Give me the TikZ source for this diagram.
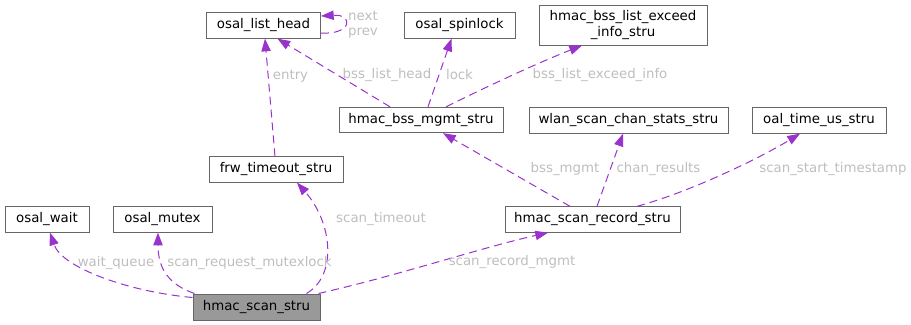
\documentclass[tikz,border=0pt]{standalone}
\usepackage{fontspec}
\setmainfont{DejaVu Sans}
\usetikzlibrary{arrows.meta,calc}
\definecolor{EdgeCol}{HTML}{9A32CD}
\definecolor{BoxLine}{HTML}{666666}
\definecolor{LabelCol}{HTML}{BEBEBE}
\definecolor{MainFill}{HTML}{999999}

\begin{document}
\begin{tikzpicture}[x=0.75pt,y=-0.75pt,
  cls/.style={draw=BoxLine,line width=0.75pt,fill=white,inner sep=0pt,minimum height=19pt,font=\fontsize{10}{12}\selectfont},
  clsmain/.style={cls,fill=MainFill,minimum height=19.5pt},
  member/.style={EdgeCol,line width=0.75pt,dash pattern=on 6pt off 3.75pt,-{Triangle[length=9.5pt,width=7pt]}},
  memberlbl/.style={text=LabelCol,inner sep=0pt,font=\fontsize{10}{11.5}\selectfont}]
\useasboundingbox (0,0) rectangle (911,325);
% classes
\node[clsmain,minimum width=95.25pt] (scan) at (256.5,307) {hmac\_scan\_stru};
\node[cls,minimum width=63pt] (wait) at (47,219.5) {osal\_wait};
\node[cls,minimum width=74.25pt] (mutex) at (162.5,219.5) {osal\_mutex};
\node[cls,minimum width=100.5pt] (timeout) at (276,169.5) {frw\_timeout\_stru};
\node[cls,minimum width=131.25pt] (record) at (592.5,219.5) {hmac\_scan\_record\_stru};
\node[cls,minimum width=123pt] (bssmgmt) at (421,120) {hmac\_bss\_mgmt\_stru};
\node[cls,minimum width=149.25pt] (chan) at (628.5,120.5) {wlan\_scan\_chan\_stats\_stru};
\node[cls,minimum width=100.5pt] (ustime) at (819,120.5) {oal\_time\_us\_stru};
\node[cls,minimum width=85.5pt] (listhead) at (263.5,25.5) {osal\_list\_head};
\node[cls,minimum width=83.25pt] (spinlock) at (459.5,25.5) {osal\_spinlock};
\node[cls,minimum width=126pt,minimum height=30pt,align=center] (exceed) at (623,25) {hmac\_bss\_list\_exceed\\\_info\_stru};
% members
\draw[member] ($(scan.north west)+(0,4)$) .. controls (130,292) and (62,268) .. ($(wait.south)+(3,0)$);
\draw[member] ($(scan.north west)+(2,0)$) .. controls (170,285) and (158,270) .. ($(mutex.south)+(-4.5,0)$);
\draw[member] ($(scan.north)+(50,0)$) .. controls (338,275) and (332,222) .. ($(timeout.south)+(21,0)$);
\draw[member] ($(scan.north east)+(-2,0)$) .. controls (400,275) and (480,248) .. ($(record.south)+(-44.5,0)$);
\draw[member] ($(timeout.north)+(-1,0)$) -- ($(listhead.south)+(1.5,0)$);
\draw[member] ($(bssmgmt.north)+(-31,0)$) -- ($(listhead.south)+(14,0)$);
\draw[member] ($(bssmgmt.north)+(7,0)$) -- ($(spinlock.south)+(-8,0)$);
\draw[member] ($(bssmgmt.north)+(25,0)$) .. controls (490,85) and (540,62) .. ($(exceed.south)+(-41,0)$);
\draw[member] ($(listhead.east)+(0,7.5)$) .. controls (352,35) and (354,14) .. ($(listhead.east)+(0,-9.5)$);
\draw[member] ($(record.north)+(-22.5,0)$) -- ($(bssmgmt.south)+(22,0)$);
\draw[member] ($(record.north)+(4.5,0)$) -- ($(chan.south)+(-5.5,0)$);
\draw[member] ($(record.north)+(44.5,0)$) .. controls (690,192) and (760,158) .. ($(ustime.south)+(-19,0)$);
% labels
\node[memberlbl] (lwait) at (116,263) {wait\_queue};
\node[memberlbl] (lmutex) at (249.5,263) {scan\_request\_mutexlock};
\node[memberlbl] (ltimeout) at (381,219) {scan\_timeout};
\node[memberlbl] (lrecord) at (512,262) {scan\_record\_mgmt};
\node[memberlbl] (lentry) at (290.5,76) {entry};
\node[memberlbl] (lhead) at (387,75) {bss\_list\_head};
\node[memberlbl] (llock) at (459.5,75) {lock};
\node[memberlbl] (lexceed) at (600,75) {bss\_list\_exceed\_info};
\node[memberlbl,align=center] (lnext) at (363,24.5) {next\\prev};
\node[memberlbl] (lmgmt) at (565,169) {bss\_mgmt};
\node[memberlbl] (lchan) at (658.5,169) {chan\_results};
\node[memberlbl] (lstamp) at (833,169) {scan\_start\_timestamp};
\end{tikzpicture}
\end{document}
